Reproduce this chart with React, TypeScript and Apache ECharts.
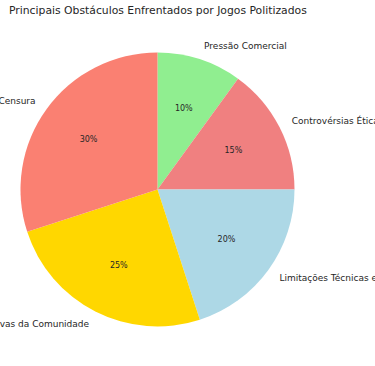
import React, { useEffect, useRef } from "react";
import * as echarts from "echarts";

const titleText = "Principais Obstáculos Enfrentados por Jogos Politizados";
const categories = [
  "Pressão Comercial",
  "Controvérsias Éticas",
  "Limitações Técnicas e Orçamentárias",
  "Reações Negativas da Comunidade",
  "Censura",
];
const values = [10, 15, 20, 25, 30];
const colors = ["#90EE90", "#F08080", "#ADD8E6", "#FFD700", "#FA8072"];

const CX = 157.5;
const CY = 189.5;
const R = 137;
const FONT = "DejaVu Sans";

export default function App() {
  const ref = useRef<HTMLDivElement>(null);
  useEffect(() => {
    if (!ref.current) return;
    const chart = echarts.init(ref.current, undefined, { renderer: "svg" });
    const data = categories.map((name, i) => ({
      name,
      value: values[i],
      itemStyle: { color: colors[i] },
    }));
    chart.setOption({
      animation: false,
      title: {
        text: titleText,
        left: 9,
        top: 5,
        padding: 0,
        textStyle: { fontFamily: FONT, fontSize: 10.8, fontWeight: "normal", color: "#262626" },
      },
      series: [
        {
          type: "pie",
          center: [CX, CY],
          radius: [0, R],
          startAngle: 90,
          clockwise: true,
          avoidLabelOverlap: false,
          silent: true,
          data,
          itemStyle: { borderWidth: 0 },
          label: {
            show: true,
            position: "outside",
            formatter: "{b}",
            fontFamily: FONT,
            fontSize: 9,
            color: "#262626",
            distanceToLabelLine: 0,
            verticalAlign: "middle",
          },
          labelLine: { show: false, length: R * 0.1, length2: 0 },
        },
        {
          type: "pie",
          center: [CX, CY],
          radius: [0, R * 1.2],
          startAngle: 90,
          clockwise: true,
          avoidLabelOverlap: false,
          silent: true,
          z: 5,
          data: categories.map((name, i) => ({ name, value: values[i] })),
          itemStyle: { color: "rgba(0,0,0,0)", borderWidth: 0 },
          label: {
            show: true,
            position: "inside",
            formatter: (p: any) => `${Math.round(p.percent)}%`,
            fontFamily: FONT,
            fontSize: 8,
            color: "#262626",
          },
          labelLine: { show: false },
        },
      ],
    });
    return () => chart.dispose();
  }, []);
  return (
    <div
      ref={ref}
      style={{ position: "absolute", left: 0, top: 0, width: 375, height: 366, background: "#ffffff" }}
    />
  );
}
